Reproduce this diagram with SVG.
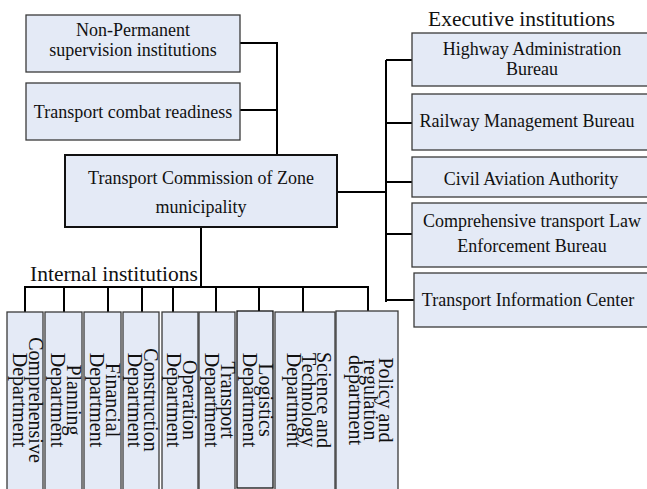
<svg xmlns="http://www.w3.org/2000/svg" width="647" height="489" viewBox="0 0 647 489">
  <style>
    .box { fill: #E4EAF6; stroke: #3a3a3a; stroke-width: 1.3; }
    .main { fill: #E4EAF6; stroke: #111; stroke-width: 2; }
    text { font-family: "Liberation Serif", "Times New Roman", serif; fill: #111; }
    .t { font-size: 18px; text-anchor: middle; }
    .lbl { font-size: 21.5px; }
    .v { font-size: 20px; text-anchor: middle; }
    .wire { fill: none; stroke: #000; stroke-width: 2; }
  </style>
  <rect width="647" height="489" fill="#fff"/>

  <!-- connectors -->
  <g id="connectors" class="wire">
    <polyline points="240,43 277,43 277,155"/>
    <line x1="240" y1="110" x2="277" y2="110"/>
    <line x1="337" y1="192" x2="386" y2="192"/>
    <line x1="386" y1="60" x2="386" y2="302"/>
    <line x1="386" y1="60" x2="412" y2="60"/>
    <line x1="386" y1="123" x2="412" y2="123"/>
    <line x1="386" y1="182" x2="412" y2="182"/>
    <line x1="386" y1="234" x2="412" y2="234"/>
    <line x1="386" y1="300" x2="414" y2="300"/>
    <line x1="201" y1="227" x2="201" y2="287"/>
    <line x1="24" y1="287" x2="369" y2="287"/>
    <path d="M25,287V312 M64,287V312 M108,287V312 M142,287V312 M173,287V312 M216,287V312 M259,287V311 M303,287V312 M368,287V311"/>
  </g>

  <!-- supervision and readiness -->
  <g id="non-permanent">
    <rect class="box" x="26" y="15" width="214" height="57"/>
    <text class="t" x="133" y="36">Non-Permanent</text>
    <text class="t" x="133" y="56">supervision institutions</text>
  </g>
  <g id="combat-readiness">
    <rect class="box" x="26" y="83" width="214" height="57"/>
    <text class="t" x="133" y="118">Transport combat readiness</text>
  </g>

  <!-- central commission -->
  <g id="commission">
    <rect class="main" x="65" y="155" width="272" height="72"/>
    <text class="t" x="201" y="184">Transport Commission of Zone</text>
    <text class="t" x="201" y="213">municipality</text>
  </g>

  <!-- executive institutions -->
  <text class="lbl" x="428" y="26">Executive institutions</text>
  <g id="highway">
    <rect class="box" x="412" y="33" width="240" height="53"/>
    <text class="t" x="532" y="55">Highway Administration</text>
    <text class="t" x="532" y="75">Bureau</text>
  </g>
  <g id="railway">
    <rect class="box" x="412" y="94" width="240" height="56"/>
    <text class="t" x="527" y="127">Railway Management Bureau</text>
  </g>
  <g id="civil-aviation">
    <rect class="box" x="412" y="157" width="240" height="40"/>
    <text class="t" x="531" y="185">Civil Aviation Authority</text>
  </g>
  <g id="law-enforcement">
    <rect class="box" x="412" y="203" width="240" height="64"/>
    <text class="t" x="532" y="227">Comprehensive transport Law</text>
    <text class="t" x="532" y="252">Enforcement Bureau</text>
  </g>
  <g id="information-center">
    <rect class="box" x="414" y="273" width="240" height="54"/>
    <text class="t" x="528" y="306">Transport Information Center</text>
  </g>

  <!-- internal institutions -->
  <text class="lbl" x="30" y="281">Internal institutions</text>
  <g id="comprehensive-dept">
    <rect class="box" x="7" y="312" width="36" height="180"/>
    <text class="v" transform="translate(29,400) rotate(90)">Comprehensive</text>
    <text class="v" transform="translate(13,400) rotate(90)">Department</text>
  </g>
  <g id="planning-dept">
    <rect class="box" x="45" y="312" width="37" height="180"/>
    <text class="v" transform="translate(67,400) rotate(90)">Planning</text>
    <text class="v" transform="translate(51,400) rotate(90)">Department</text>
  </g>
  <g id="financial-dept">
    <rect class="box" x="84" y="312" width="37" height="180"/>
    <text class="v" transform="translate(106,400) rotate(90)">Financial</text>
    <text class="v" transform="translate(90,400) rotate(90)">Department</text>
  </g>
  <g id="construction-dept">
    <rect class="box" x="123" y="312" width="36" height="180"/>
    <text class="v" transform="translate(144,400) rotate(90)">Construction</text>
    <text class="v" transform="translate(128,400) rotate(90)">Department</text>
  </g>
  <g id="operation-dept">
    <rect class="box" x="162" y="312" width="36" height="180"/>
    <text class="v" transform="translate(183,400) rotate(90)">Operation</text>
    <text class="v" transform="translate(167,400) rotate(90)">Department</text>
  </g>
  <g id="transport-dept">
    <rect class="box" x="199" y="312" width="36" height="180"/>
    <text class="v" transform="translate(221,400) rotate(90)">Transport</text>
    <text class="v" transform="translate(205,400) rotate(90)">Department</text>
  </g>
  <g id="logistics-dept">
    <rect class="box" x="237" y="311" width="36" height="177" style="stroke:#111"/>
    <text class="v" transform="translate(259,400) rotate(90)">Logistics</text>
    <text class="v" transform="translate(243,400) rotate(90)">Department</text>
  </g>
  <g id="science-dept">
    <rect class="box" x="275" y="312" width="60" height="180"/>
    <text class="v" transform="translate(317,400) rotate(90)">Science and</text>
    <text class="v" transform="translate(302,400) rotate(90)">Technology</text>
    <text class="v" transform="translate(287,400) rotate(90)">Department</text>
  </g>
  <g id="policy-dept">
    <rect class="box" x="336" y="311" width="62" height="181"/>
    <text class="v" transform="translate(379,400) rotate(90)">Policy and</text>
    <text class="v" transform="translate(364,400) rotate(90)">regulation</text>
    <text class="v" transform="translate(349,400) rotate(90)">department</text>
  </g>
</svg>
